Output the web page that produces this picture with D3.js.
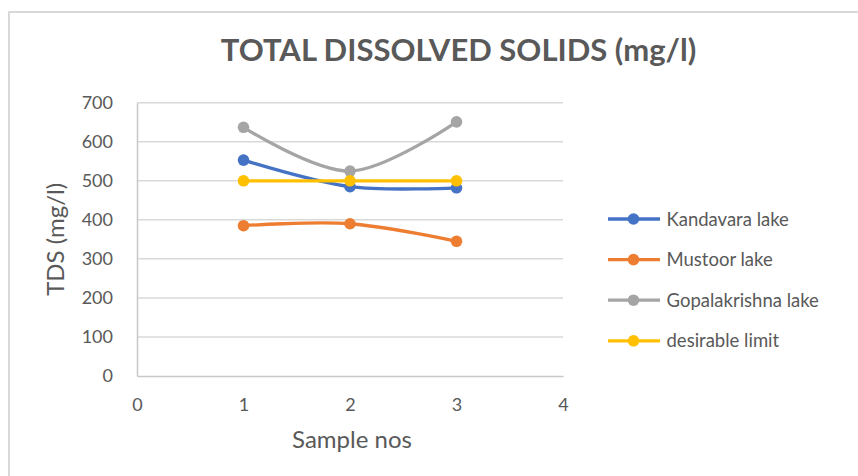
<!DOCTYPE html>
<html>
<head>
<meta charset="utf-8">
<script src="https://cdn.jsdelivr.net/npm/d3@7"></script>
<style>
  html, body { margin: 0; padding: 0; background: #fff; }
  svg { display: block; }
  text { font-family: Lato, "Open Sans", "Liberation Sans", sans-serif; fill: #595959; }
</style>
</head>
<body>
<svg id="chart" width="858" height="476"></svg>
<script>
// Sample numbers on the x axis
const samples = [1, 2, 3];

// TDS readings (mg/l) per lake
const kandavara = [553, 485, 482];
const mustoor = [385, 390, 345];
const gopalakrishna = [637, 525, 651];
const desirable = [500, 500, 500];

const seriesNames = ["Kandavara lake", "Mustoor lake", "Gopalakrishna lake", "desirable limit"];
const seriesColors = ["#4472C4", "#ED7D31", "#A5A5A5", "#FFC000"];
const seriesValues = [kandavara, mustoor, gopalakrishna, desirable];

const xTicks = [0, 1, 2, 3, 4];
const yTicks = [0, 100, 200, 300, 400, 500, 600, 700];

const svg = d3.select("#chart");

// outer chart frame
svg.append("rect")
  .attr("x", 9).attr("y", 12)
  .attr("width", 870).attr("height", 480)
  .attr("fill", "#fff").attr("stroke", "#d9d9d9").attr("stroke-width", 2);

const plot = { left: 137, right: 563, top: 102.7, bottom: 376 };

const x = d3.scaleLinear().domain([0, 4]).range([plot.left, plot.right]);
const y = d3.scaleLinear().domain([0, 700]).range([plot.bottom, plot.top]);

// horizontal gridlines
svg.append("g")
  .selectAll("line")
  .data(yTicks.filter(t => t > 0))
  .join("line")
  .attr("x1", plot.left).attr("x2", plot.right)
  .attr("y1", d => y(d)).attr("y2", d => y(d))
  .attr("stroke", "#d9d9d9").attr("stroke-width", 1.5);

// y axis
const yAxis = svg.append("g")
  .attr("transform", `translate(${plot.left},0)`)
  .call(d3.axisLeft(y).tickValues(yTicks).tickSize(0).tickPadding(24).tickFormat(d3.format("d")));
yAxis.select(".domain").attr("stroke", "#c8c8c8").attr("stroke-width", 1.5);
yAxis.selectAll("text").style("font-size", "18px").attr("fill", "#595959");

// x axis
const xAxis = svg.append("g")
  .attr("transform", `translate(0,${plot.bottom})`)
  .call(d3.axisBottom(x).tickValues(xTicks).tickSize(0).tickPadding(22).tickFormat(d3.format("d")));
xAxis.select(".domain").attr("stroke", "#c8c8c8").attr("stroke-width", 1.5);
xAxis.selectAll("text").style("font-size", "18px").attr("fill", "#595959");

// title
svg.append("text")
  .attr("x", 458.5).attr("y", 61)
  .attr("text-anchor", "middle")
  .style("font-size", "31px").style("font-weight", "bold")
  .text("TOTAL DISSOLVED SOLIDS (mg/l)");

// axis titles
svg.append("text")
  .attr("x", 352).attr("y", 448)
  .attr("text-anchor", "middle")
  .style("font-size", "24px")
  .text("Sample nos");

svg.append("text")
  .attr("transform", `translate(64,${(plot.top + plot.bottom) / 2}) rotate(-90)`)
  .attr("text-anchor", "middle")
  .style("font-size", "24px")
  .text("TDS (mg/l)");

// smoothed series lines with markers
const line = d3.line()
  .x((d, i) => x(samples[i]))
  .y(d => y(d))
  .curve(d3.curveCatmullRom.alpha(0.5));

const series = svg.append("g")
  .selectAll("g")
  .data(seriesValues.map((v, i) => ({ values: v, color: seriesColors[i], name: seriesNames[i] })))
  .join("g");

series.append("path")
  .attr("d", d => line(d.values))
  .attr("fill", "none")
  .attr("stroke", d => d.color)
  .attr("stroke-width", 3.3)
  .attr("stroke-linecap", "round");

series.selectAll("circle")
  .data(d => d.values.map((v, i) => ({ v, i, color: d.color })))
  .join("circle")
  .attr("cx", d => x(samples[d.i]))
  .attr("cy", d => y(d.v))
  .attr("r", 5.8)
  .attr("fill", d => d.color);

// legend
const legend = svg.append("g")
  .selectAll("g")
  .data(seriesNames)
  .join("g")
  .attr("transform", (d, i) => `translate(608,${219 + i * 40.6})`);

legend.append("line")
  .attr("x1", 0).attr("x2", 52)
  .attr("stroke", (d, i) => seriesColors[i])
  .attr("stroke-width", 3.3);

legend.append("circle")
  .attr("cx", 25.5).attr("r", 5.8)
  .attr("fill", (d, i) => seriesColors[i]);

legend.append("text")
  .attr("x", 58.5).attr("dy", "0.36em")
  .style("font-size", "18.5px")
  .text(d => d);
</script>
</body>
</html>
